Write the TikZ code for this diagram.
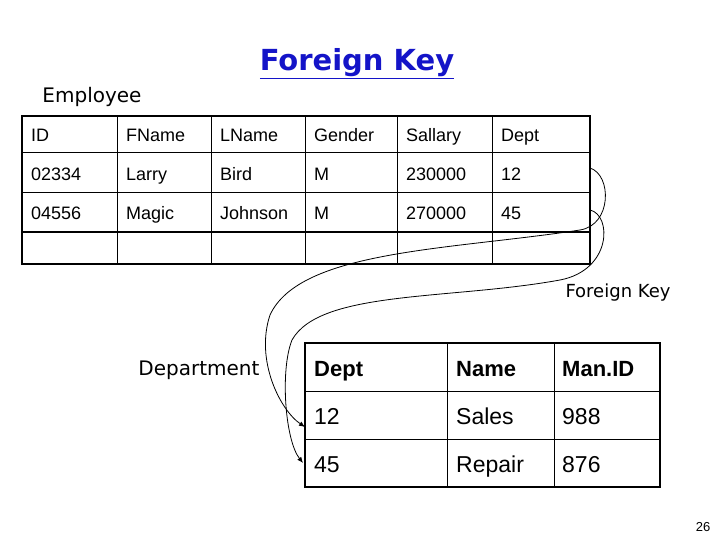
\documentclass[tikz,border=0pt]{standalone}
\usepackage{fontspec}
\setmainfont{Liberation Sans}
\newfontfamily\comic{DejaVu Sans}
\usetikzlibrary{arrows.meta}
\definecolor{titleblue}{RGB}{20,20,200}
\begin{document}
\begin{tikzpicture}[x=1pt,y=-1pt,
  cell/.style={anchor=base west,font=\fontsize{18}{20}\selectfont,inner sep=0pt},
  dcell/.style={anchor=base west,font=\fontsize{23}{26}\selectfont,inner sep=0pt},
  lbl/.style={font=\comic\fontsize{15}{18}\selectfont,inner sep=0pt},
  fk/.style={-{Latex[length=6pt,width=5pt]},line width=0.8pt}]
\useasboundingbox (0,0) rectangle (720,540);
% Employee table
\foreach \x in {117,211,305,397,492} \draw[line width=1pt] (\x,116) -- (\x,264);
\foreach \y in {153,193,232} \draw[line width=1pt] (22,\y) -- (590,\y);
\draw[line width=2pt] (22,116) rectangle (590,264);
\node[lbl,font=\comic\fontsize{20}{22}\selectfont] (emp) at (92,97) {Employee};
\node[lbl,font=\comic\bfseries\fontsize{29}{32}\selectfont,text=titleblue] (title) at (357,64) {\underline{Foreign Key}};
\foreach \t [count=\i from 0] in {ID,FName,LName,Gender,Sallary,Dept}
  {\pgfmathsetmacro\xx{{31,126,220,314,406,501}[\i]}
   \node[cell] at (\xx,142) {\t};}
\foreach \t [count=\i from 0] in {02334,Larry,Bird,M,230000,12}
  {\pgfmathsetmacro\xx{{31,126,220,314,406,501}[\i]}
   \node[cell] (r1c\i) at (\xx,181) {\t};}
\foreach \t [count=\i from 0] in {04556,Magic,Johnson,M,270000,45}
  {\pgfmathsetmacro\xx{{31,126,220,314,406,501}[\i]}
   \node[cell] (r2c\i) at (\xx,220) {\t};}
% Department table
\foreach \x in {447,554} \draw[line width=1pt] (\x,343) -- (\x,487);
\foreach \y in {391,439} \draw[line width=1pt] (305,\y) -- (660,\y);
\draw[line width=2pt] (305,343) rectangle (660,487);
\node[dcell,font=\bfseries\fontsize{22}{26}\selectfont] at (314,376) {Dept};
\node[dcell,font=\bfseries\fontsize{22}{26}\selectfont] at (456,376) {Name};
\node[dcell,font=\bfseries\fontsize{22}{26}\selectfont] at (562,376) {Man.ID};
\node[dcell] (d12) at (314,424) {12};
\node[dcell] at (456,424) {Sales};
\node[dcell] at (562,424) {988};
\node[dcell] (d45) at (314,472) {45};
\node[dcell] at (456,472) {Repair};
\node[dcell] at (562,472) {876};
\node[lbl,font=\comic\fontsize{20}{22}\selectfont] (dept) at (199,370) {Department};
\node[lbl,font=\comic\fontsize{18}{20}\selectfont] (fklbl) at (618,293) {Foreign Key};
\coordinate (s1) at (590,168);
\coordinate (s2) at (590,210);
\coordinate (e1) at (305,427);
\coordinate (e2) at (303,463);
\draw[fk] (s1) .. controls (612,175) and (612,225) .. (580,230)
  .. controls (450,250) and (300,250) .. (270,315)
  .. controls (255,360) and (280,410) .. (e1);
\draw[fk] (s2) .. controls (612,215) and (612,270) .. (560,280)
  .. controls (450,300) and (320,290) .. (292,340)
  .. controls (280,370) and (285,440) .. (e2);
\node[font=\fontsize{13}{14}\selectfont,inner sep=0pt] (pg) at (703,527) {26};
\end{tikzpicture}
\end{document}
